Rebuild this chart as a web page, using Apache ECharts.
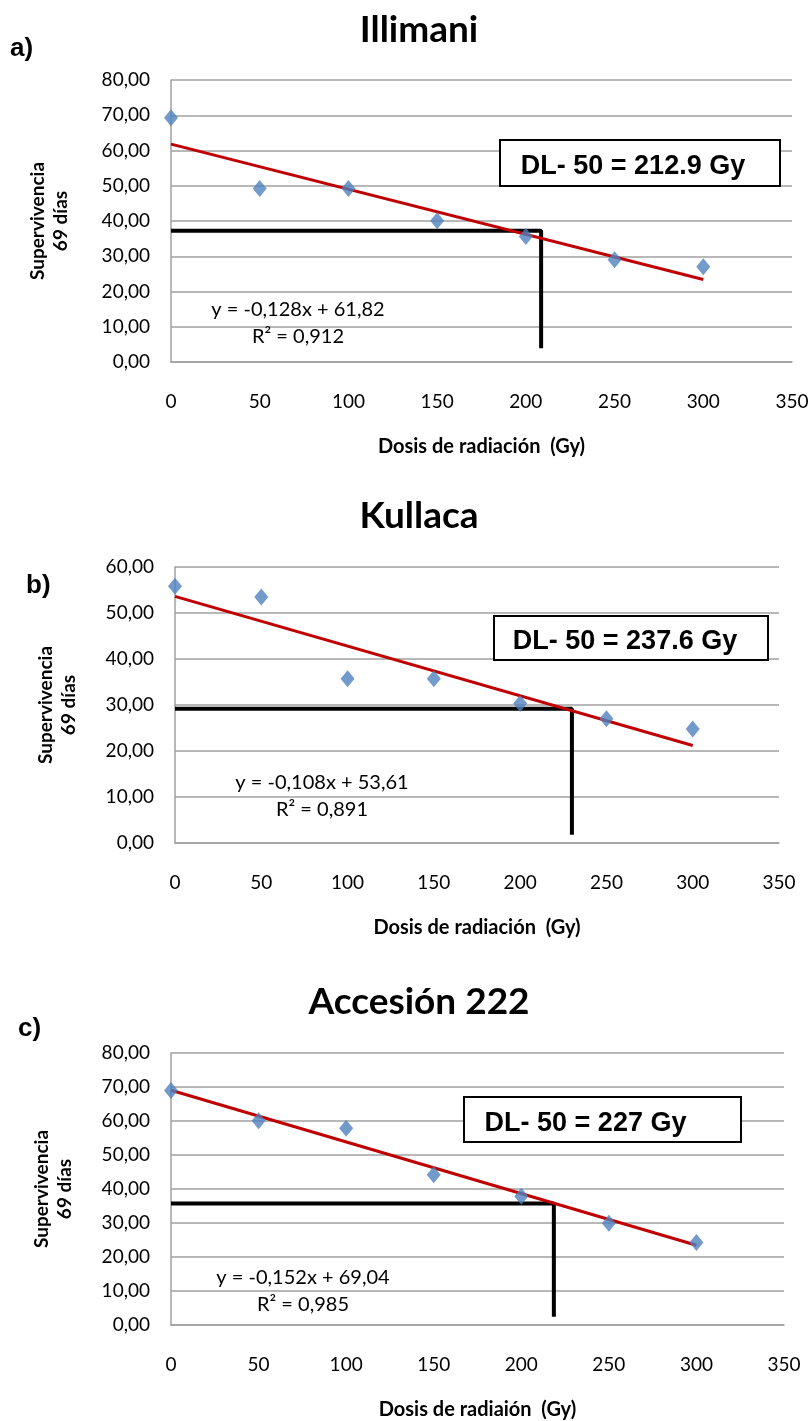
<!DOCTYPE html>
<html>
<head>
<meta charset="utf-8">
<title>DL-50</title>
<script src="https://cdn.jsdelivr.net/npm/echarts@6/dist/echarts.min.js"></script>
<style>
html, body { margin: 0; padding: 0; background: #fff; }
#chart { width: 812px; height: 1421px; }
</style>
</head>
<body>
<div id="chart"></div>
<script>
// dosis de radiación (Gy)
const dosis = [0, 50, 100, 150, 200, 250, 300];

// supervivencia a los 69 días (%)
const illimani = [69.3, 49.2, 49.2, 40.1, 35.6, 29.0, 27.0];
const kullaca = [55.8, 53.5, 35.7, 35.7, 30.3, 27.0, 24.8];
const accesion = [69.0, 60.1, 57.9, 44.2, 37.9, 29.9, 24.3];

// líneas de tendencia (extremos)
const trendIllimani = [[0, 61.82], [300, 23.42]];
const trendKullaca = [[0, 53.61], [300, 21.21]];
const trendAccesion = [[0, 69.04], [300, 23.44]];

// guías negras DL-50
const guideIllimani = [[0, 37.2], [208.6, 37.2], [208.6, 3.9]];
const guideKullaca = [[0, 29.2], [230, 29.2], [230, 1.8]];
const guideAccesion = [[0, 35.7], [218.6, 35.7], [218.6, 2.4]];

const titles = ['Illimani', 'Kullaca', 'Accesión 222'];
const letters = ['a)', 'b)', 'c)'];
const xNames = ['Dosis de radiación  (Gy)', 'Dosis de radiación  (Gy)', 'Dosis de radiaión  (Gy)'];
const yMax = [80, 60, 80];
const dlTexts = ['DL- 50 = 212.9 Gy', 'DL- 50 = 237.6 Gy', 'DL- 50 = 227 Gy'];
const equations = ['y = -0,128x + 61,82', 'y = -0,108x + 53,61', 'y = -0,152x + 69,04'];
const r2Texts = ['R² = 0,912', 'R² = 0,891', 'R² = 0,985'];

const seriesData = [illimani, kullaca, accesion];
const trends = [trendIllimani, trendKullaca, trendAccesion];
const guides = [guideIllimani, guideKullaca, guideAccesion];

// layout de cada panel
const panels = [
  { grid: { left: 171, right: 20, top: 80, height: 282 }, titleY: 7, letter: [10, 36], nameGap: 99,
    box: [500, 140, 280, 46], dlShift: -7, eq: [298, 310, 337] },
  { grid: { left: 175, right: 33, top: 567, height: 276 }, titleY: 493, letter: [26, 573], nameGap: 95,
    box: [494, 616, 274, 44], dlShift: -6, eq: [322, 783, 810] },
  { grid: { left: 171, right: 28, top: 1053, height: 272 }, titleY: 979, letter: [18, 1016], nameGap: 95,
    box: [464, 1097, 277, 45], dlShift: -17, eq: [303, 1278, 1305] }
];

const calibri = 'Lato, "Open Sans", sans-serif';
const arial = '"Liberation Sans", Arial, sans-serif';
const gridColor = '#a0a0a0';

const chart = echarts.init(document.getElementById('chart'));

const option = {
  backgroundColor: '#fff',
  animation: false,
  title: panels.map((p, i) => ({
    text: titles[i],
    left: 414,
    top: p.titleY,
    textAlign: 'center',
    textStyle: { fontFamily: calibri, fontWeight: 'bold', fontSize: 37, color: '#000' }
  })),
  grid: panels.map(p => p.grid),
  xAxis: panels.map((p, i) => ({
    type: 'value',
    gridIndex: i,
    min: 0,
    max: 350,
    interval: 50,
    name: xNames[i],
    nameLocation: 'middle',
    nameGap: 75,
    nameTextStyle: { fontFamily: calibri, fontWeight: 'bold', fontSize: 20, color: '#000' },
    axisLine: { show: true, lineStyle: { color: gridColor, width: 1.5 } },
    axisTick: { show: false },
    splitLine: { show: false },
    axisLabel: { margin: 30, fontFamily: calibri, fontSize: 19, color: '#000' }
  })),
  yAxis: panels.map((p, i) => ({
    type: 'value',
    gridIndex: i,
    min: 0,
    max: yMax[i],
    interval: 10,
    name: 'Supervivencia\n69 días',
    nameLocation: 'middle',
    nameGap: p.nameGap,
    nameRotate: 90,
    nameTextStyle: { fontFamily: calibri, fontWeight: 'bold', fontSize: 19, color: '#000', lineHeight: 23 },
    axisLine: { show: true, lineStyle: { color: gridColor, width: 1.5 } },
    axisTick: { show: false },
    splitLine: { show: true, lineStyle: { color: gridColor, width: 1.5 } },
    axisLabel: {
      margin: 21,
      fontFamily: calibri,
      fontSize: 19,
      color: '#000',
      formatter: v => v.toFixed(2).replace('.', ',')
    }
  })),
  series: []
};

for (let i = 0; i < 3; i++) {
  option.series.push({
    type: 'line',
    xAxisIndex: i,
    yAxisIndex: i,
    data: guides[i],
    symbol: 'none',
    lineStyle: { color: '#000', width: 4 },
    z: 3
  });
  option.series.push({
    type: 'line',
    xAxisIndex: i,
    yAxisIndex: i,
    data: trends[i],
    symbol: 'none',
    lineStyle: { color: '#c00000', width: 3 },
    z: 4
  });
  option.series.push({
    type: 'scatter',
    xAxisIndex: i,
    yAxisIndex: i,
    data: dosis.map((d, k) => [d, seriesData[i][k]]),
    symbol: 'diamond',
    symbolSize: [14, 17],
    itemStyle: { color: '#4f81bd' },
    z: 5
  });
}

const graphics = [];
panels.forEach((p, i) => {
  graphics.push({
    type: 'text',
    left: p.letter[0],
    top: p.letter[1],
    style: { text: letters[i], font: 'bold 26px ' + arial, fill: '#000' }
  });
  graphics.push({
    type: 'rect',
    shape: { x: p.box[0], y: p.box[1], width: p.box[2], height: p.box[3] },
    style: { fill: '#fff', stroke: '#000', lineWidth: 2 },
    z: 10
  });
  graphics.push({
    type: 'text',
    x: p.box[0] + p.box[2] / 2 + p.dlShift,
    y: p.box[1] + p.box[3] / 2 + 4,
    style: {
      text: dlTexts[i], font: 'bold 27px ' + arial, fill: '#000',
      align: 'center', verticalAlign: 'middle'
    },
    z: 11
  });
  graphics.push({
    type: 'text',
    x: p.eq[0],
    y: p.eq[1],
    style: { text: equations[i], font: '20px ' + calibri, fill: '#000', align: 'center', verticalAlign: 'middle' },
    z: 11
  });
  graphics.push({
    type: 'text',
    x: p.eq[0],
    y: p.eq[2],
    style: { text: r2Texts[i], font: '20px ' + calibri, fill: '#000', align: 'center', verticalAlign: 'middle' },
    z: 11
  });
});
option.graphic = graphics;

chart.setOption(option);
</script>
</body>
</html>
